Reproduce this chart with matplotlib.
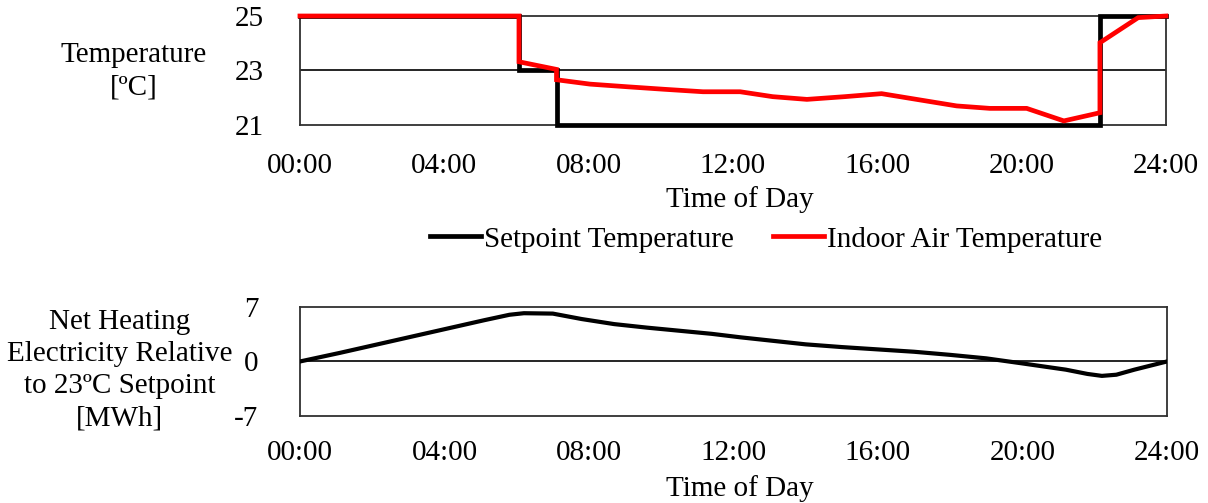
import numpy as np
import matplotlib
matplotlib.use("Agg")
import matplotlib.pyplot as plt
from matplotlib.lines import Line2D

plt.rcParams['font.family'] = ['Liberation Serif', 'DejaVu Serif']
plt.rcParams['font.size'] = 21
plt.rcParams['axes.unicode_minus'] = False

# setpoint schedule (hours, degC)
sp_hour = [0, 6.07, 6.07, 7.11, 7.11, 22.17, 22.17, 24]
sp_temp = [25, 25, 23, 23, 21, 21, 25, 25]

# indoor air temperature (hours, degC)
in_hour = [0, 6.07, 6.07, 7.11, 7.11, 8.04, 9.1, 10.1, 11.17, 12.2, 13.1, 14.05,
           15.1, 16.12, 17.18, 18.2, 19.12, 20.14, 21.17, 22.17, 22.17, 23.23, 24]
in_temp = [25, 25, 23.32, 23.04, 22.66, 22.5, 22.4, 22.31, 22.22, 22.22, 22.04, 21.94,
           22.04, 22.15, 21.92, 21.7, 21.61, 21.61, 21.15, 21.45, 24.02, 24.94, 25.0]

# net heating electricity relative to 23C setpoint (hours, MWh)
el_hour = [0, 1.1, 2.1, 3.1, 4.1, 5.1, 5.8, 6.2, 7.0, 7.8, 8.7, 9.6, 10.5, 11.4,
           12.2, 13.1, 14.0, 15.0, 16.0, 17.0, 18.0, 19.0, 20.0, 21.2, 21.8,
           22.2, 22.6, 23.1, 24]
el_mwh = [0, 1.1, 2.15, 3.2, 4.25, 5.3, 6.0, 6.2, 6.15, 5.45, 4.8, 4.35, 3.95, 3.55,
          3.1, 2.65, 2.2, 1.85, 1.55, 1.25, 0.85, 0.4, -0.25, -1.05, -1.6,
          -1.85, -1.7, -1.05, 0]

xticks = [0, 4, 8, 12, 16, 20, 24]
xlabels = ['00:00', '04:00', '08:00', '12:00', '16:00', '20:00', '24:00']

fig = plt.figure(figsize=(12.08, 5.03), dpi=100)
ax1 = fig.add_axes([0.2483, 0.7515, 0.7169, 0.2167])
ax2 = fig.add_axes([0.2483, 0.1730, 0.7177, 0.2167])

for ax in (ax1, ax2):
    ax.set_xlim(0, 24)
    ax.set_xticks(xticks)
    ax.set_xticklabels(xlabels)
    for s in ax.spines.values():
        s.set_linewidth(1.3)
        s.set_color('#303030')
    ax.tick_params(length=0)

# top panel
ax1.plot(sp_hour, sp_temp, color='black', lw=3.4, solid_joinstyle='miter', clip_on=False, zorder=3)
ax1.plot(in_hour, in_temp, color='#ff0000', lw=3.4, solid_joinstyle='miter', clip_on=False, zorder=4)
ax1.set_ylim(21, 25)
ax1.set_yticks([21, 23, 25])
ax1.axhline(23, color='black', lw=1.2, zorder=1)
ax1.tick_params(axis='y', pad=26)
ax1.tick_params(axis='x', pad=20)
ax1.set_ylabel('Temperature\n[ºC]', rotation=0, ha='center', va='center', linespacing=1.3)
ax1.yaxis.set_label_coords(-0.192, 0.495)
ax1.set_xlabel('Time of Day')
ax1.xaxis.set_label_coords(0.508, -0.56)

# bottom panel
ax2.plot(el_hour, el_mwh, color='black', lw=3.0, zorder=3)
ax2.set_ylim(-7, 7)
ax2.set_yticks([-7, 0, 7])
ax2.axhline(0, color='black', lw=1.2, zorder=1)
ax2.tick_params(axis='y', pad=30)
ax2.tick_params(axis='x', pad=17)
ax2.set_ylabel('Net Heating\nElectricity Relative\nto 23ºC Setpoint\n[MWh]',
               rotation=0, ha='center', va='center', linespacing=1.3)
ax2.yaxis.set_label_coords(-0.208, 0.42)
ax2.set_xlabel('Time of Day')
ax2.xaxis.set_label_coords(0.508, -0.54)

handles = [Line2D([], [], color='black', lw=3.4),
           Line2D([], [], color='#ff0000', lw=3.4)]
fig.legend(handles, ['Setpoint Temperature', 'Indoor Air Temperature'],
           loc='center', bbox_to_anchor=(0.634, 0.524), ncol=2, frameon=False,
           handlelength=1.75, handletextpad=0.1, columnspacing=1.35)

fig.savefig('out.png', dpi=100)
